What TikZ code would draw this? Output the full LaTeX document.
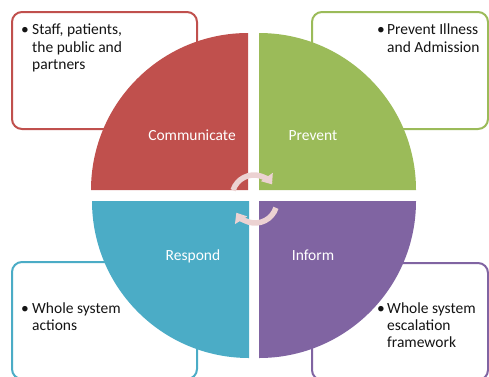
\documentclass[tikz,border=0pt]{standalone}
\usepackage{fontspec}
\setmainfont{Carlito}
\usetikzlibrary{arrows.meta}
\definecolor{cred}{HTML}{C0504D}
\definecolor{cgreen}{HTML}{9BBB59}
\definecolor{cblue}{HTML}{4BACC6}
\definecolor{cpurple}{HTML}{8064A2}
\definecolor{cpink}{RGB}{236,210,210}
\definecolor{ctext}{RGB}{20,20,20}
\begin{document}
\begin{tikzpicture}[x=1pt,y=-1pt,
  box/.style={line width=2pt, rounded corners=10pt, fill=white},
  txt/.style={anchor=base west, inner sep=0pt, font=\fontsize{15.5}{17.5}\selectfont, text=ctext},
  lbl/.style={anchor=base, inner sep=0pt, font=\fontsize{15.5}{17.5}\selectfont, text=white},
  cyc/.style={line width=5.5pt, draw=cpink, -{Triangle[width=14pt,length=9pt]}}
]
\useasboundingbox (0,0) rectangle (489,376);
\clip (0,0) rectangle (489,376);
% boxes
\draw[box, draw=cred] (12,12) rectangle (197,129);
\draw[box, draw=cgreen] (312,12) rectangle (488,129);
\draw[box, draw=cblue] (12,262) rectangle (197,379);
\draw[box, draw=cpurple] (312,263) rectangle (488,380);
% quadrants
\fill[cred] (248,190) -- (91,190) arc[start angle=180,end angle=270,radius=157] -- cycle;
\fill[cgreen] (259,190) -- (259,33) arc[start angle=270,end angle=360,radius=157] -- cycle;
\fill[cblue] (249,201) -- (92,201) arc[start angle=180,end angle=90,radius=157] -- cycle;
\fill[cpurple] (259,201) -- (416,201) arc[start angle=0,end angle=90,radius=157] -- cycle;
% cycle arrows
\draw[cyc] (254,197) ++(198:22) arc[start angle=198,end angle=325,radius=22];
\draw[cyc] (255,201) ++(18:22) arc[start angle=18,end angle=148,radius=22];
% labels
\node[lbl] (lc) at (192,140) {Communicate};
\node[lbl] (lp) at (313,140) {Prevent};
\node[lbl] (lr) at (193,260) {Respond};
\node[lbl] (li) at (313,260) {Inform};
% texts
\node[txt] (b1) at (21,34) {•};
\node[txt] (t1a) at (32,34) {Staff, patients,};
\node[txt] (t1b) at (32,52) {the public and};
\node[txt] (t1c) at (32,69) {partners};
\node[txt] (b2) at (377,34) {•};
\node[txt] (t2a) at (387,34) {Prevent Illness};
\node[txt] (t2b) at (387,52) {and Admission};
\node[txt] (b3) at (21,313) {•};
\node[txt] (t3a) at (32,313) {Whole system};
\node[txt] (t3b) at (32,330) {actions};
\node[txt] (b4) at (377,313) {•};
\node[txt] (t4a) at (387,313) {Whole system};
\node[txt] (t4b) at (387,330) {escalation};
\node[txt] (t4c) at (387,347) {framework};
\end{tikzpicture}
\end{document}
